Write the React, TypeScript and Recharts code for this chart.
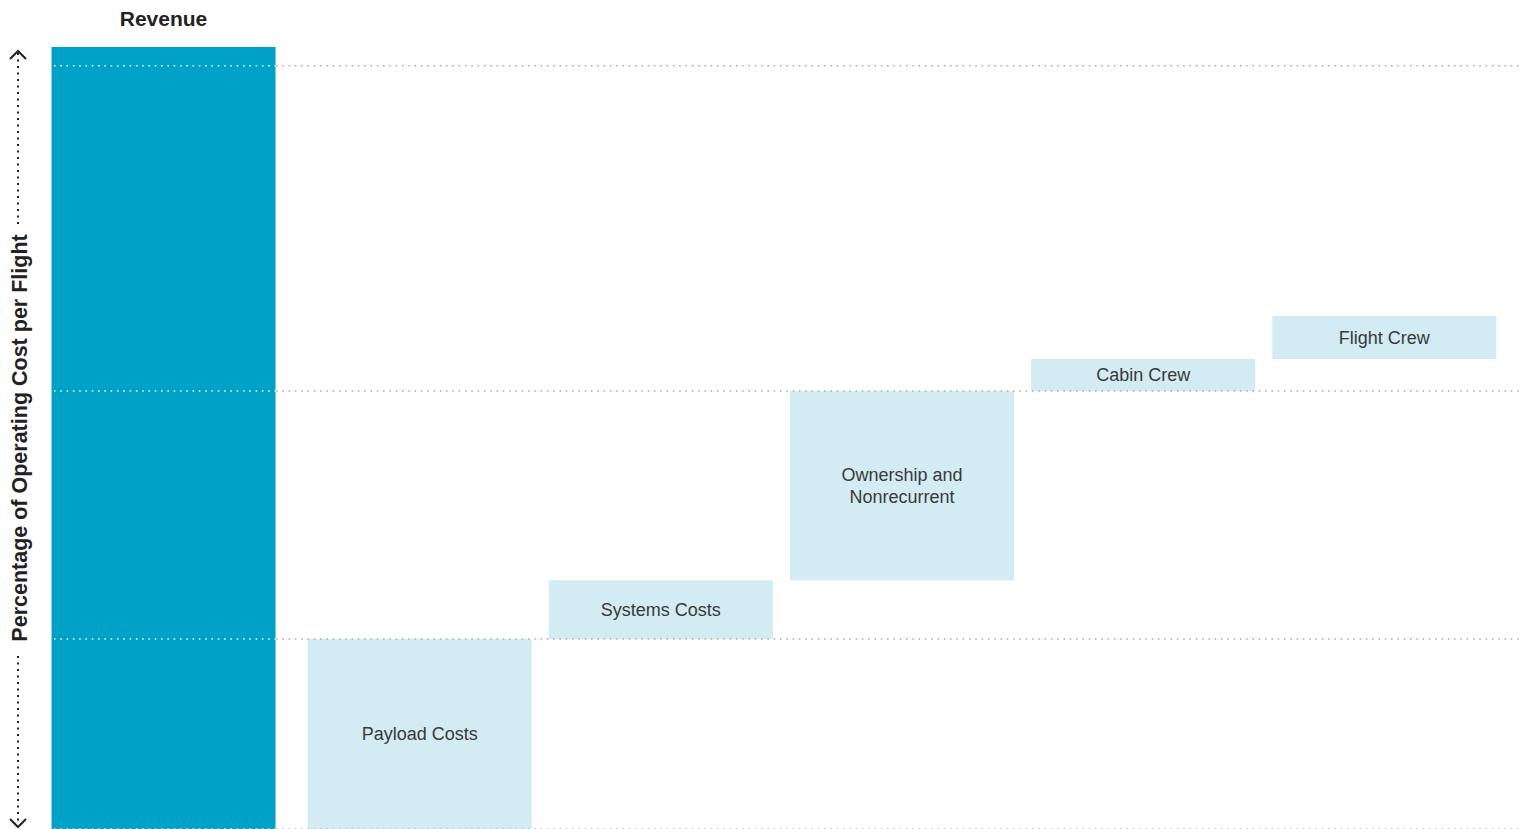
import { Bar, BarChart, Cell, LabelList, Rectangle, ReferenceLine, XAxis, YAxis } from "recharts";

const CATEGORIES = [
  "Revenue",
  "Payload Costs",
  "Systems Costs",
  "Ownership and\nNonrecurrent",
  "Cabin Crew",
  "Flight Crew",
];
// where each step starts, and how tall it is (percent of operating cost)
const BASES = [0, 0, 24.3, 31.8, 56.0, 60.1];
const VALUES = [100, 24.3, 7.5, 24.2, 4.1, 5.5];
const GRID_VALUES = [0, 24.3, 56.0, 97.6];
const AXIS_TITLE = "Percentage of Operating Cost per Flight";

const REVENUE_BLUE = "#00A1C6";
const COST_BLUE = "#D3EBF2";
const INK = "#222222";
const TEXT = "#3a3a3a";
const FONT = "'Liberation Sans', Arial, Helvetica, sans-serif";
const REVENUE_SHIFT = -15;
const REVENUE_LEFT = 52;
const REVENUE_RIGHT = 276;
const GRID_RIGHT = 1522;

const rows = CATEGORIES.map((name, i) => ({ name, base: BASES[i], value: VALUES[i] }));

function StepShape(props: any) {
  const dx = props.index === 0 ? REVENUE_SHIFT : 0;
  return <Rectangle {...props} x={props.x + dx} />;
}

function StepLabel(props: any) {
  const { x, y, width, height, value, index } = props;
  if (index === 0) {
    return (
      <text
        x={x + width / 2 + REVENUE_SHIFT}
        y={y - 21}
        textAnchor="middle"
        fontFamily={FONT}
        fontWeight="bold"
        fontSize={21}
        fill={INK}
      >
        {value}
      </text>
    );
  }
  const lines = String(value).split("\n");
  const lh = 22;
  const cy = y + height / 2 - ((lines.length - 1) * lh) / 2;
  return (
    <text textAnchor="middle" fontFamily={FONT} fontSize={18} fill={TEXT}>
      {lines.map((l, k) => (
        <tspan key={k} x={x + width / 2} y={cy + k * lh} dominantBaseline="central">
          {l}
        </tspan>
      ))}
    </text>
  );
}

function GridLine(props: any) {
  const y = props.y1;
  return (
    <g>
      <line x1={REVENUE_RIGHT} x2={GRID_RIGHT} y1={y} y2={y} stroke="#aaaaaa" strokeWidth={1.5} strokeDasharray="1.5 4.8" />
      <line x1={REVENUE_LEFT + 2} x2={REVENUE_RIGHT} y1={y} y2={y} stroke="#ffffff" strokeWidth={1.5} strokeDasharray="1.5 4.8" />
    </g>
  );
}

function AxisTitle(props: any) {
  const vb = props.viewBox || { x: 0, y: 47, width: 58, height: 782 };
  const cx = 18;
  const top = vb.y;
  const bottom = vb.y + vb.height;
  const cy = top + vb.height / 2;
  return (
    <g>
      <text
        x={cx + 2}
        y={cy}
        transform={`rotate(-90, ${cx + 2}, ${cy})`}
        textAnchor="middle"
        dominantBaseline="central"
        fontFamily={FONT}
        fontWeight="bold"
        fontSize={21.5}
        fill={INK}
      >
        {AXIS_TITLE}
      </text>
      <line x1={cx} x2={cx} y1={top + 6} y2={cy - 212} stroke={INK} strokeWidth={2} strokeDasharray="2 4.5" />
      <line x1={cx} x2={cx} y1={cy + 218} y2={bottom - 4} stroke={INK} strokeWidth={2} strokeDasharray="2 4.5" />
      <polyline points={`${cx - 8},${top + 12} ${cx},${top + 4} ${cx + 8},${top + 12}`} fill="none" stroke={INK} strokeWidth={2} />
      <polyline points={`${cx - 8},${bottom - 10} ${cx},${bottom - 2} ${cx + 8},${bottom - 10}`} fill="none" stroke={INK} strokeWidth={2} />
    </g>
  );
}

export default function App() {
  return (
    <div style={{ position: "absolute", left: 0, top: 0, background: "#fff" }}>
      <BarChart
        width={1527}
        height={829}
        data={rows}
        margin={{ top: 47, right: 22.5, bottom: 0, left: 0 }}
        barSize={224}
      >
        <XAxis dataKey="name" hide />
        <YAxis
          type="number"
          domain={[0, 100]}
          width={57.5}
          tick={false}
          tickLine={false}
          axisLine={false}
          label={{ content: AxisTitle }}
        />
        <Bar dataKey="base" stackId="w" fill="transparent" isAnimationActive={false} />
        <Bar dataKey="value" stackId="w" shape={StepShape} isAnimationActive={false}>
          {rows.map((r, i) => (
            <Cell key={r.name} fill={i === 0 ? REVENUE_BLUE : COST_BLUE} />
          ))}
          <LabelList dataKey="name" content={StepLabel} />
        </Bar>
        {GRID_VALUES.map((v) => (
          <ReferenceLine key={v} y={v} shape={GridLine} ifOverflow="visible" />
        ))}
      </BarChart>
    </div>
  );
}
